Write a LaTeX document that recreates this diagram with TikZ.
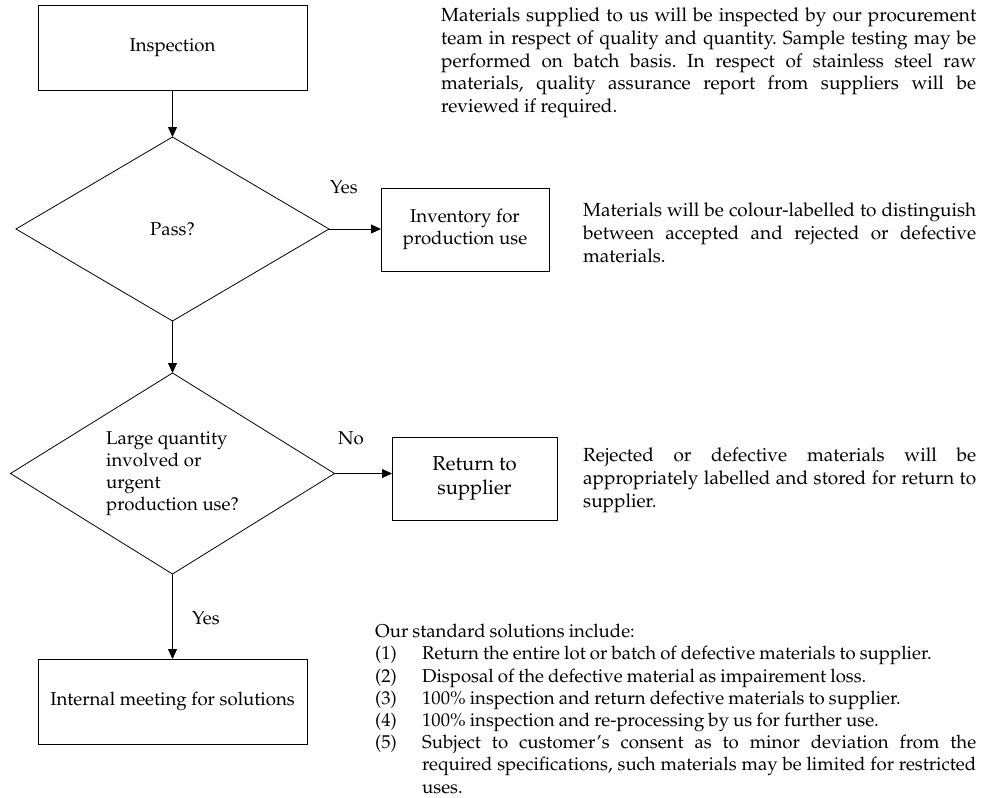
\documentclass[tikz,border=0pt]{standalone}
\usepackage[T1]{fontenc}
\usepackage{mathpazo}
\usetikzlibrary{shapes.geometric,arrows.meta,calc}
\newcommand\myfs{\fontsize{18.6}{22}\selectfont}
\newcommand\myparfs{\fontsize{19}{22.6}\selectfont}
\newcommand\mylistfs{\fontsize{18.6}{22.2}\selectfont}
\newcommand\myretfs{\fontsize{20.2}{23.5}\selectfont}
\begin{document}
\frenchspacing
\hyphenpenalty=10000
\exhyphenpenalty=10000
\begin{tikzpicture}[x=1pt,y=-1pt,
  box/.style={draw, line width=0.8pt, inner sep=0pt, outer sep=0pt, align=center, font=\myfs},
  dec/.style={draw, diamond, aspect=1.6, line width=0.8pt, inner sep=0pt, outer sep=0pt, font=\myfs},
  arr/.style={line width=0.8pt, -{Triangle[length=10pt,width=9pt]}},
  lbl/.style={font=\myfs, inner sep=0pt, anchor=west},
  para/.style={font=\myparfs, inner sep=0pt, align=justify, anchor=north west}]
\useasboundingbox (0,0) rectangle (984,797);

\node[box, minimum width=269pt, minimum height=85pt] (insp) at (172.5,47.5) {Inspection};
\node[dec, minimum width=313pt, minimum height=184pt] (pass) at (172.5,229) {Pass?};
\node[dec, minimum width=324pt, minimum height=201pt, align=left] (large) at (172.5,473.5)
  {Large quantity\\involved or\\urgent\\production use?};
\node[box, minimum width=269pt, minimum height=85pt] (meet) at (172.5,701.5) {Internal meeting for solutions};
\node[box, minimum width=168pt, minimum height=83pt] (inv) at (465,229.5) {Inventory for\\production use};
\node[box, minimum width=165pt, minimum height=83pt, font=\myretfs] (ret) at (474.5,478.5) {Return to\\supplier};

\draw[arr] (insp.south) -- (pass.north);
\draw[arr] (pass.south) -- (large.north);
\draw[arr] (large.south) -- (meet.north);
\draw[arr] (pass.east) -- (pass.east -| inv.west);
\draw[arr] (large.east) -- (large.east -| ret.west);

\node[lbl] (yes1) at (330,187) {Yes};
\node[lbl] (no) at (338,438) {No};
\node[lbl] (yes2) at (192,618) {Yes};

\node[para, text width=535pt] (p1) at (441,8) {Materials supplied to us will be inspected by our procurement\linebreak
team in respect of quality and quantity. Sample testing may be\linebreak
performed on batch basis. In respect of stainless steel raw\linebreak
materials, quality assurance report from suppliers will be\linebreak
reviewed if required.};

\node[para, text width=393pt] (p2) at (583,203) {Materials will be colour-labelled to distinguish\linebreak
between accepted and rejected or defective\linebreak
materials.};

\node[para, text width=393pt] (p3) at (583,448) {Rejected or defective materials will be\linebreak
appropriately labelled and stored for return to\linebreak
supplier.};

\node[para, text width=601pt, font=\mylistfs] (p4) at (375,624) {\parindent=0pt
\spaceskip=0.22em plus 0.3em minus 0.1em
Our standard solutions include:\par
\noindent\hangindent=47pt\hangafter=1\makebox[47pt][l]{(1)}Return the entire lot or batch of defective materials to supplier.\par
\noindent\hangindent=47pt\hangafter=1\makebox[47pt][l]{(2)}Disposal of the defective material as impairement loss.\par
\noindent\hangindent=47pt\hangafter=1\makebox[47pt][l]{(3)}100\% inspection and return defective materials to supplier.\par
\noindent\hangindent=47pt\hangafter=1\makebox[47pt][l]{(4)}100\% inspection and re-processing by us for further use.\par
\noindent\hangindent=47pt\hangafter=1\makebox[47pt][l]{(5)}Subject to customer's consent as to minor deviation from the\linebreak
required specifications, such materials may be limited for restricted\linebreak
uses.\par};
\end{tikzpicture}
\end{document}
